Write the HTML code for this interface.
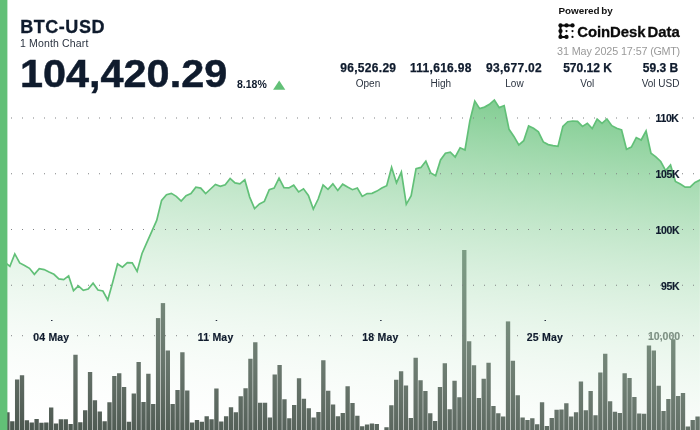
<!DOCTYPE html>
<html><head><meta charset="utf-8"><title>BTC-USD</title>
<style>
html,body{margin:0;padding:0;background:#fff;}
body{width:700px;height:430px;overflow:hidden;position:relative;font-family:"Liberation Sans",sans-serif;color:#0f1b2d;}
svg{position:absolute;left:0;top:0;}
#tx{position:absolute;left:0;top:0;width:700px;height:430px;will-change:transform;}
.t{position:absolute;white-space:nowrap;line-height:1;}
.c{position:absolute;white-space:nowrap;line-height:1;text-align:center;width:80px;margin-left:-40px;}
.v{font-weight:bold;font-size:12px;top:62px;letter-spacing:0.3px;-webkit-text-stroke:0.25px #0f1b2d;}
.l{font-size:10px;top:78.5px;color:#2b3340;}
.ax{font-weight:bold;font-size:10.5px;-webkit-text-stroke:0.15px #0f1b2d;}
.dx{letter-spacing:0.2px;}
</style></head><body>
<svg width="700" height="430" viewBox="0 0 700 430">
<defs>
<linearGradient id="g" gradientUnits="userSpaceOnUse" x1="0" y1="-9.7" x2="-48.50" y2="430.05">
<stop offset="0" stop-color="rgb(93,190,114)" stop-opacity="1"/>
<stop offset="1" stop-color="rgb(255,255,255)" stop-opacity="0"/>
</linearGradient>
</defs>
<g fill="rgb(73,85,77)"><rect x="5.25" y="412.25" width="4.35" height="18.75"/><rect x="10.12" y="421.25" width="4.35" height="9.75"/><rect x="14.98" y="379.50" width="4.35" height="51.50"/><rect x="19.84" y="375.25" width="4.35" height="55.75"/><rect x="24.70" y="420.25" width="4.35" height="10.75"/><rect x="29.56" y="422.50" width="4.35" height="8.50"/><rect x="34.42" y="419.00" width="4.35" height="12.00"/><rect x="39.28" y="422.75" width="4.35" height="8.25"/><rect x="44.14" y="422.50" width="4.35" height="8.50"/><rect x="49.00" y="407.50" width="4.35" height="23.50"/><rect x="53.86" y="423.50" width="4.35" height="7.50"/><rect x="58.72" y="419.25" width="4.35" height="11.75"/><rect x="63.58" y="419.25" width="4.35" height="11.75"/><rect x="68.44" y="424.00" width="4.35" height="7.00"/><rect x="73.30" y="354.75" width="4.35" height="76.25"/><rect x="78.16" y="422.25" width="4.35" height="8.75"/><rect x="83.02" y="410.25" width="4.35" height="20.75"/><rect x="87.88" y="372.00" width="4.35" height="59.00"/><rect x="92.74" y="400.25" width="4.35" height="30.75"/><rect x="97.60" y="411.50" width="4.35" height="19.50"/><rect x="102.46" y="421.25" width="4.35" height="9.75"/><rect x="107.32" y="402.25" width="4.35" height="28.75"/><rect x="112.18" y="376.00" width="4.35" height="55.00"/><rect x="117.04" y="373.25" width="4.35" height="57.75"/><rect x="121.90" y="387.00" width="4.35" height="44.00"/><rect x="126.76" y="421.75" width="4.35" height="9.25"/><rect x="131.62" y="393.50" width="4.35" height="37.50"/><rect x="136.48" y="362.00" width="4.35" height="69.00"/><rect x="141.34" y="402.00" width="4.35" height="29.00"/><rect x="146.20" y="373.75" width="4.35" height="57.25"/><rect x="151.06" y="404.00" width="4.35" height="27.00"/><rect x="155.92" y="318.10" width="4.35" height="112.90"/><rect x="160.78" y="303.10" width="4.35" height="127.90"/><rect x="165.64" y="350.50" width="4.35" height="80.50"/><rect x="170.50" y="404.00" width="4.35" height="27.00"/><rect x="175.36" y="390.00" width="4.35" height="41.00"/><rect x="180.22" y="352.25" width="4.35" height="78.75"/><rect x="185.08" y="390.50" width="4.35" height="40.50"/><rect x="189.94" y="422.50" width="4.35" height="8.50"/><rect x="194.80" y="420.00" width="4.35" height="11.00"/><rect x="199.66" y="421.75" width="4.35" height="9.25"/><rect x="204.52" y="416.25" width="4.35" height="14.75"/><rect x="209.38" y="419.25" width="4.35" height="11.75"/><rect x="214.24" y="388.50" width="4.35" height="42.50"/><rect x="219.10" y="421.50" width="4.35" height="9.50"/><rect x="223.96" y="416.25" width="4.35" height="14.75"/><rect x="228.82" y="407.25" width="4.35" height="23.75"/><rect x="233.68" y="412.25" width="4.35" height="18.75"/><rect x="238.54" y="396.25" width="4.35" height="34.75"/><rect x="243.40" y="388.25" width="4.35" height="42.75"/><rect x="248.26" y="358.75" width="4.35" height="72.25"/><rect x="253.12" y="342.25" width="4.35" height="88.75"/><rect x="257.98" y="402.75" width="4.35" height="28.25"/><rect x="262.84" y="402.75" width="4.35" height="28.25"/><rect x="267.70" y="417.50" width="4.35" height="13.50"/><rect x="272.56" y="374.50" width="4.35" height="56.50"/><rect x="277.42" y="365.00" width="4.35" height="66.00"/><rect x="282.28" y="399.25" width="4.35" height="31.75"/><rect x="287.14" y="418.25" width="4.35" height="12.75"/><rect x="292.00" y="405.00" width="4.35" height="26.00"/><rect x="296.86" y="378.25" width="4.35" height="52.75"/><rect x="301.72" y="398.75" width="4.35" height="32.25"/><rect x="306.58" y="408.25" width="4.35" height="22.75"/><rect x="311.44" y="417.50" width="4.35" height="13.50"/><rect x="316.30" y="412.00" width="4.35" height="19.00"/><rect x="321.16" y="360.25" width="4.35" height="70.75"/><rect x="326.02" y="390.75" width="4.35" height="40.25"/><rect x="330.88" y="404.50" width="4.35" height="26.50"/><rect x="335.74" y="416.25" width="4.35" height="14.75"/><rect x="340.60" y="413.00" width="4.35" height="18.00"/><rect x="345.46" y="386.25" width="4.35" height="44.75"/><rect x="350.32" y="403.00" width="4.35" height="28.00"/><rect x="355.18" y="415.75" width="4.35" height="15.25"/><rect x="360.04" y="426.25" width="4.35" height="4.75"/><rect x="364.90" y="424.50" width="4.35" height="6.50"/><rect x="369.76" y="423.50" width="4.35" height="7.50"/><rect x="374.62" y="424.00" width="4.35" height="7.00"/><rect x="384.34" y="427.25" width="4.35" height="3.75"/><rect x="389.20" y="405.25" width="4.35" height="25.75"/><rect x="394.06" y="379.75" width="4.35" height="51.25"/><rect x="398.92" y="371.25" width="4.35" height="59.75"/><rect x="403.78" y="385.50" width="4.35" height="45.50"/><rect x="408.64" y="418.00" width="4.35" height="13.00"/><rect x="413.50" y="357.75" width="4.35" height="73.25"/><rect x="418.36" y="380.25" width="4.35" height="50.75"/><rect x="423.22" y="391.00" width="4.35" height="40.00"/><rect x="428.08" y="413.25" width="4.35" height="17.75"/><rect x="432.94" y="421.00" width="4.35" height="10.00"/><rect x="437.80" y="387.00" width="4.35" height="44.00"/><rect x="442.66" y="363.25" width="4.35" height="67.75"/><rect x="447.52" y="409.25" width="4.35" height="21.75"/><rect x="452.38" y="380.75" width="4.35" height="50.25"/><rect x="457.24" y="397.25" width="4.35" height="33.75"/><rect x="462.10" y="250.00" width="4.35" height="181.00"/><rect x="466.96" y="341.25" width="4.35" height="89.75"/><rect x="471.82" y="365.25" width="4.35" height="65.75"/><rect x="476.68" y="398.00" width="4.35" height="33.00"/><rect x="481.54" y="378.75" width="4.35" height="52.25"/><rect x="486.40" y="362.75" width="4.35" height="68.25"/><rect x="491.26" y="406.00" width="4.35" height="25.00"/><rect x="496.13" y="413.25" width="4.35" height="17.75"/><rect x="500.99" y="416.50" width="4.35" height="14.50"/><rect x="505.85" y="321.40" width="4.35" height="109.60"/><rect x="510.71" y="360.75" width="4.35" height="70.25"/><rect x="515.57" y="395.25" width="4.35" height="35.75"/><rect x="520.43" y="417.50" width="4.35" height="13.50"/><rect x="525.29" y="420.00" width="4.35" height="11.00"/><rect x="530.15" y="418.25" width="4.35" height="12.75"/><rect x="535.01" y="424.25" width="4.35" height="6.75"/><rect x="539.87" y="402.25" width="4.35" height="28.75"/><rect x="544.73" y="426.00" width="4.35" height="5.00"/><rect x="549.59" y="418.00" width="4.35" height="13.00"/><rect x="554.45" y="409.75" width="4.35" height="21.25"/><rect x="559.31" y="409.50" width="4.35" height="21.50"/><rect x="564.17" y="403.25" width="4.35" height="27.75"/><rect x="569.03" y="416.50" width="4.35" height="14.50"/><rect x="573.89" y="412.25" width="4.35" height="18.75"/><rect x="578.75" y="381.50" width="4.35" height="49.50"/><rect x="583.61" y="410.25" width="4.35" height="20.75"/><rect x="588.47" y="391.00" width="4.35" height="40.00"/><rect x="593.33" y="415.25" width="4.35" height="15.75"/><rect x="598.19" y="372.50" width="4.35" height="58.50"/><rect x="603.05" y="353.75" width="4.35" height="77.25"/><rect x="607.91" y="401.25" width="4.35" height="29.75"/><rect x="612.77" y="411.75" width="4.35" height="19.25"/><rect x="617.63" y="413.00" width="4.35" height="18.00"/><rect x="622.49" y="373.25" width="4.35" height="57.75"/><rect x="627.35" y="378.00" width="4.35" height="53.00"/><rect x="632.21" y="397.00" width="4.35" height="34.00"/><rect x="637.07" y="413.50" width="4.35" height="17.50"/><rect x="641.93" y="413.75" width="4.35" height="17.25"/><rect x="646.79" y="345.50" width="4.35" height="85.50"/><rect x="651.65" y="350.50" width="4.35" height="80.50"/><rect x="656.51" y="385.75" width="4.35" height="45.25"/><rect x="661.37" y="411.00" width="4.35" height="20.00"/><rect x="666.23" y="399.00" width="4.35" height="32.00"/><rect x="671.09" y="339.25" width="4.35" height="91.75"/><rect x="675.95" y="396.00" width="4.35" height="35.00"/><rect x="680.81" y="393.00" width="4.35" height="38.00"/><rect x="685.67" y="426.50" width="4.35" height="4.50"/><rect x="690.53" y="420.00" width="4.35" height="11.00"/><rect x="695.39" y="416.50" width="4.35" height="14.50"/></g>
<path d="M5.00 262.30 L9.89 266.40 L14.79 253.93 L19.68 262.90 L24.57 265.40 L29.47 268.30 L34.36 274.40 L39.26 268.67 L44.15 269.60 L49.04 272.10 L53.94 274.30 L58.83 278.90 L63.72 279.70 L68.62 275.94 L73.51 290.70 L78.40 285.87 L83.30 290.40 L88.19 289.00 L93.08 283.19 L97.98 290.00 L102.87 291.00 L107.77 300.00 L112.66 282.50 L117.55 263.93 L122.45 267.10 L127.34 262.64 L132.23 262.90 L137.13 271.40 L142.02 253.50 L146.91 242.40 L151.81 231.40 L156.70 220.40 L161.60 200.40 L166.49 194.70 L171.38 193.34 L176.28 196.40 L181.17 201.10 L186.06 195.70 L190.96 193.60 L195.85 187.18 L200.74 188.10 L205.64 193.60 L210.53 189.00 L215.42 184.38 L220.32 186.40 L225.21 184.70 L230.11 178.42 L235.00 182.90 L239.89 183.90 L244.79 179.70 L249.68 197.10 L254.57 208.60 L259.47 203.90 L264.36 201.40 L269.25 189.60 L274.15 188.10 L279.04 178.16 L283.94 187.60 L288.83 187.90 L293.72 185.15 L298.62 191.90 L303.51 188.77 L308.40 195.40 L313.30 209.00 L318.19 199.00 L323.08 184.97 L327.98 189.30 L332.87 183.86 L337.76 190.40 L342.66 184.15 L347.55 187.10 L352.45 189.70 L357.34 188.03 L362.23 196.40 L367.13 193.60 L372.02 193.30 L376.91 191.10 L381.81 188.10 L386.70 185.70 L391.59 167.30 L396.49 182.90 L401.38 172.09 L406.28 204.30 L411.17 195.70 L416.06 168.60 L420.96 167.40 L425.85 161.15 L430.74 172.90 L435.64 175.70 L440.53 160.00 L445.42 153.20 L450.32 152.16 L455.21 157.00 L460.10 147.77 L465.00 150.00 L469.89 120.70 L474.79 101.10 L479.68 108.60 L484.57 107.10 L489.47 104.30 L494.36 99.95 L499.25 107.60 L504.15 105.56 L509.04 129.30 L513.93 136.40 L518.83 145.00 L523.72 140.70 L528.62 125.94 L533.51 128.30 L538.40 131.80 L543.30 141.90 L548.19 144.60 L553.08 145.70 L557.98 146.40 L562.87 126.40 L567.76 121.70 L572.66 121.00 L577.55 121.40 L582.44 126.40 L587.34 123.24 L592.23 128.60 L597.13 119.18 L602.02 123.40 L606.91 118.93 L611.81 125.70 L616.70 128.30 L621.59 130.00 L626.49 149.30 L631.38 147.10 L636.27 137.58 L641.17 140.00 L646.06 130.88 L650.96 153.30 L655.85 156.80 L660.74 161.50 L665.64 170.60 L670.53 164.91 L675.42 181.50 L680.32 184.00 L685.21 187.20 L690.10 187.20 L695.00 182.50 L699.89 180.00 L699.89 430 L5.00 430 Z" fill="url(#g)"/>
<path d="M5.00 262.30 L9.89 266.40 L14.79 253.93 L19.68 262.90 L24.57 265.40 L29.47 268.30 L34.36 274.40 L39.26 268.67 L44.15 269.60 L49.04 272.10 L53.94 274.30 L58.83 278.90 L63.72 279.70 L68.62 275.94 L73.51 290.70 L78.40 285.87 L83.30 290.40 L88.19 289.00 L93.08 283.19 L97.98 290.00 L102.87 291.00 L107.77 300.00 L112.66 282.50 L117.55 263.93 L122.45 267.10 L127.34 262.64 L132.23 262.90 L137.13 271.40 L142.02 253.50 L146.91 242.40 L151.81 231.40 L156.70 220.40 L161.60 200.40 L166.49 194.70 L171.38 193.34 L176.28 196.40 L181.17 201.10 L186.06 195.70 L190.96 193.60 L195.85 187.18 L200.74 188.10 L205.64 193.60 L210.53 189.00 L215.42 184.38 L220.32 186.40 L225.21 184.70 L230.11 178.42 L235.00 182.90 L239.89 183.90 L244.79 179.70 L249.68 197.10 L254.57 208.60 L259.47 203.90 L264.36 201.40 L269.25 189.60 L274.15 188.10 L279.04 178.16 L283.94 187.60 L288.83 187.90 L293.72 185.15 L298.62 191.90 L303.51 188.77 L308.40 195.40 L313.30 209.00 L318.19 199.00 L323.08 184.97 L327.98 189.30 L332.87 183.86 L337.76 190.40 L342.66 184.15 L347.55 187.10 L352.45 189.70 L357.34 188.03 L362.23 196.40 L367.13 193.60 L372.02 193.30 L376.91 191.10 L381.81 188.10 L386.70 185.70 L391.59 167.30 L396.49 182.90 L401.38 172.09 L406.28 204.30 L411.17 195.70 L416.06 168.60 L420.96 167.40 L425.85 161.15 L430.74 172.90 L435.64 175.70 L440.53 160.00 L445.42 153.20 L450.32 152.16 L455.21 157.00 L460.10 147.77 L465.00 150.00 L469.89 120.70 L474.79 101.10 L479.68 108.60 L484.57 107.10 L489.47 104.30 L494.36 99.95 L499.25 107.60 L504.15 105.56 L509.04 129.30 L513.93 136.40 L518.83 145.00 L523.72 140.70 L528.62 125.94 L533.51 128.30 L538.40 131.80 L543.30 141.90 L548.19 144.60 L553.08 145.70 L557.98 146.40 L562.87 126.40 L567.76 121.70 L572.66 121.00 L577.55 121.40 L582.44 126.40 L587.34 123.24 L592.23 128.60 L597.13 119.18 L602.02 123.40 L606.91 118.93 L611.81 125.70 L616.70 128.30 L621.59 130.00 L626.49 149.30 L631.38 147.10 L636.27 137.58 L641.17 140.00 L646.06 130.88 L650.96 153.30 L655.85 156.80 L660.74 161.50 L665.64 170.60 L670.53 164.91 L675.42 181.50 L680.32 184.00 L685.21 187.20 L690.10 187.20 L695.00 182.50 L699.89 180.00" fill="none" stroke="#62c078" stroke-width="1.7" stroke-linejoin="miter" stroke-miterlimit="6" stroke-linecap="round"/>
<g fill="#808284"><rect x="11" y="117.5" width="1" height="1"/><rect x="22" y="117.5" width="1" height="1"/><rect x="33" y="117.5" width="1" height="1"/><rect x="44" y="117.5" width="1" height="1"/><rect x="55" y="117.5" width="1" height="1"/><rect x="66" y="117.5" width="1" height="1"/><rect x="77" y="117.5" width="1" height="1"/><rect x="88" y="117.5" width="1" height="1"/><rect x="99" y="117.5" width="1" height="1"/><rect x="110" y="117.5" width="1" height="1"/><rect x="121" y="117.5" width="1" height="1"/><rect x="132" y="117.5" width="1" height="1"/><rect x="143" y="117.5" width="1" height="1"/><rect x="154" y="117.5" width="1" height="1"/><rect x="165" y="117.5" width="1" height="1"/><rect x="176" y="117.5" width="1" height="1"/><rect x="187" y="117.5" width="1" height="1"/><rect x="198" y="117.5" width="1" height="1"/><rect x="209" y="117.5" width="1" height="1"/><rect x="220" y="117.5" width="1" height="1"/><rect x="231" y="117.5" width="1" height="1"/><rect x="242" y="117.5" width="1" height="1"/><rect x="253" y="117.5" width="1" height="1"/><rect x="264" y="117.5" width="1" height="1"/><rect x="275" y="117.5" width="1" height="1"/><rect x="286" y="117.5" width="1" height="1"/><rect x="297" y="117.5" width="1" height="1"/><rect x="308" y="117.5" width="1" height="1"/><rect x="319" y="117.5" width="1" height="1"/><rect x="330" y="117.5" width="1" height="1"/><rect x="341" y="117.5" width="1" height="1"/><rect x="352" y="117.5" width="1" height="1"/><rect x="363" y="117.5" width="1" height="1"/><rect x="374" y="117.5" width="1" height="1"/><rect x="385" y="117.5" width="1" height="1"/><rect x="396" y="117.5" width="1" height="1"/><rect x="407" y="117.5" width="1" height="1"/><rect x="418" y="117.5" width="1" height="1"/><rect x="429" y="117.5" width="1" height="1"/><rect x="440" y="117.5" width="1" height="1"/><rect x="451" y="117.5" width="1" height="1"/><rect x="462" y="117.5" width="1" height="1"/><rect x="473" y="117.5" width="1" height="1"/><rect x="484" y="117.5" width="1" height="1"/><rect x="495" y="117.5" width="1" height="1"/><rect x="506" y="117.5" width="1" height="1"/><rect x="517" y="117.5" width="1" height="1"/><rect x="528" y="117.5" width="1" height="1"/><rect x="539" y="117.5" width="1" height="1"/><rect x="550" y="117.5" width="1" height="1"/><rect x="561" y="117.5" width="1" height="1"/><rect x="572" y="117.5" width="1" height="1"/><rect x="583" y="117.5" width="1" height="1"/><rect x="594" y="117.5" width="1" height="1"/><rect x="605" y="117.5" width="1" height="1"/><rect x="616" y="117.5" width="1" height="1"/><rect x="627" y="117.5" width="1" height="1"/><rect x="638" y="117.5" width="1" height="1"/><rect x="649" y="117.5" width="1" height="1"/><rect x="660" y="117.5" width="1" height="1"/><rect x="671" y="117.5" width="1" height="1"/><rect x="682" y="117.5" width="1" height="1"/><rect x="693" y="117.5" width="1" height="1"/><rect x="11" y="173.25" width="1" height="1"/><rect x="22" y="173.25" width="1" height="1"/><rect x="33" y="173.25" width="1" height="1"/><rect x="44" y="173.25" width="1" height="1"/><rect x="55" y="173.25" width="1" height="1"/><rect x="66" y="173.25" width="1" height="1"/><rect x="77" y="173.25" width="1" height="1"/><rect x="88" y="173.25" width="1" height="1"/><rect x="99" y="173.25" width="1" height="1"/><rect x="110" y="173.25" width="1" height="1"/><rect x="121" y="173.25" width="1" height="1"/><rect x="132" y="173.25" width="1" height="1"/><rect x="143" y="173.25" width="1" height="1"/><rect x="154" y="173.25" width="1" height="1"/><rect x="165" y="173.25" width="1" height="1"/><rect x="176" y="173.25" width="1" height="1"/><rect x="187" y="173.25" width="1" height="1"/><rect x="198" y="173.25" width="1" height="1"/><rect x="209" y="173.25" width="1" height="1"/><rect x="220" y="173.25" width="1" height="1"/><rect x="231" y="173.25" width="1" height="1"/><rect x="242" y="173.25" width="1" height="1"/><rect x="253" y="173.25" width="1" height="1"/><rect x="264" y="173.25" width="1" height="1"/><rect x="275" y="173.25" width="1" height="1"/><rect x="286" y="173.25" width="1" height="1"/><rect x="297" y="173.25" width="1" height="1"/><rect x="308" y="173.25" width="1" height="1"/><rect x="319" y="173.25" width="1" height="1"/><rect x="330" y="173.25" width="1" height="1"/><rect x="341" y="173.25" width="1" height="1"/><rect x="352" y="173.25" width="1" height="1"/><rect x="363" y="173.25" width="1" height="1"/><rect x="374" y="173.25" width="1" height="1"/><rect x="385" y="173.25" width="1" height="1"/><rect x="396" y="173.25" width="1" height="1"/><rect x="407" y="173.25" width="1" height="1"/><rect x="418" y="173.25" width="1" height="1"/><rect x="429" y="173.25" width="1" height="1"/><rect x="440" y="173.25" width="1" height="1"/><rect x="451" y="173.25" width="1" height="1"/><rect x="462" y="173.25" width="1" height="1"/><rect x="473" y="173.25" width="1" height="1"/><rect x="484" y="173.25" width="1" height="1"/><rect x="495" y="173.25" width="1" height="1"/><rect x="506" y="173.25" width="1" height="1"/><rect x="517" y="173.25" width="1" height="1"/><rect x="528" y="173.25" width="1" height="1"/><rect x="539" y="173.25" width="1" height="1"/><rect x="550" y="173.25" width="1" height="1"/><rect x="561" y="173.25" width="1" height="1"/><rect x="572" y="173.25" width="1" height="1"/><rect x="583" y="173.25" width="1" height="1"/><rect x="594" y="173.25" width="1" height="1"/><rect x="605" y="173.25" width="1" height="1"/><rect x="616" y="173.25" width="1" height="1"/><rect x="627" y="173.25" width="1" height="1"/><rect x="638" y="173.25" width="1" height="1"/><rect x="649" y="173.25" width="1" height="1"/><rect x="660" y="173.25" width="1" height="1"/><rect x="671" y="173.25" width="1" height="1"/><rect x="682" y="173.25" width="1" height="1"/><rect x="693" y="173.25" width="1" height="1"/><rect x="11" y="229.0" width="1" height="1"/><rect x="22" y="229.0" width="1" height="1"/><rect x="33" y="229.0" width="1" height="1"/><rect x="44" y="229.0" width="1" height="1"/><rect x="55" y="229.0" width="1" height="1"/><rect x="66" y="229.0" width="1" height="1"/><rect x="77" y="229.0" width="1" height="1"/><rect x="88" y="229.0" width="1" height="1"/><rect x="99" y="229.0" width="1" height="1"/><rect x="110" y="229.0" width="1" height="1"/><rect x="121" y="229.0" width="1" height="1"/><rect x="132" y="229.0" width="1" height="1"/><rect x="143" y="229.0" width="1" height="1"/><rect x="154" y="229.0" width="1" height="1"/><rect x="165" y="229.0" width="1" height="1"/><rect x="176" y="229.0" width="1" height="1"/><rect x="187" y="229.0" width="1" height="1"/><rect x="198" y="229.0" width="1" height="1"/><rect x="209" y="229.0" width="1" height="1"/><rect x="220" y="229.0" width="1" height="1"/><rect x="231" y="229.0" width="1" height="1"/><rect x="242" y="229.0" width="1" height="1"/><rect x="253" y="229.0" width="1" height="1"/><rect x="264" y="229.0" width="1" height="1"/><rect x="275" y="229.0" width="1" height="1"/><rect x="286" y="229.0" width="1" height="1"/><rect x="297" y="229.0" width="1" height="1"/><rect x="308" y="229.0" width="1" height="1"/><rect x="319" y="229.0" width="1" height="1"/><rect x="330" y="229.0" width="1" height="1"/><rect x="341" y="229.0" width="1" height="1"/><rect x="352" y="229.0" width="1" height="1"/><rect x="363" y="229.0" width="1" height="1"/><rect x="374" y="229.0" width="1" height="1"/><rect x="385" y="229.0" width="1" height="1"/><rect x="396" y="229.0" width="1" height="1"/><rect x="407" y="229.0" width="1" height="1"/><rect x="418" y="229.0" width="1" height="1"/><rect x="429" y="229.0" width="1" height="1"/><rect x="440" y="229.0" width="1" height="1"/><rect x="451" y="229.0" width="1" height="1"/><rect x="462" y="229.0" width="1" height="1"/><rect x="473" y="229.0" width="1" height="1"/><rect x="484" y="229.0" width="1" height="1"/><rect x="495" y="229.0" width="1" height="1"/><rect x="506" y="229.0" width="1" height="1"/><rect x="517" y="229.0" width="1" height="1"/><rect x="528" y="229.0" width="1" height="1"/><rect x="539" y="229.0" width="1" height="1"/><rect x="550" y="229.0" width="1" height="1"/><rect x="561" y="229.0" width="1" height="1"/><rect x="572" y="229.0" width="1" height="1"/><rect x="583" y="229.0" width="1" height="1"/><rect x="594" y="229.0" width="1" height="1"/><rect x="605" y="229.0" width="1" height="1"/><rect x="616" y="229.0" width="1" height="1"/><rect x="627" y="229.0" width="1" height="1"/><rect x="638" y="229.0" width="1" height="1"/><rect x="649" y="229.0" width="1" height="1"/><rect x="660" y="229.0" width="1" height="1"/><rect x="671" y="229.0" width="1" height="1"/><rect x="682" y="229.0" width="1" height="1"/><rect x="693" y="229.0" width="1" height="1"/><rect x="11" y="284.75" width="1" height="1"/><rect x="22" y="284.75" width="1" height="1"/><rect x="33" y="284.75" width="1" height="1"/><rect x="44" y="284.75" width="1" height="1"/><rect x="55" y="284.75" width="1" height="1"/><rect x="66" y="284.75" width="1" height="1"/><rect x="77" y="284.75" width="1" height="1"/><rect x="88" y="284.75" width="1" height="1"/><rect x="99" y="284.75" width="1" height="1"/><rect x="110" y="284.75" width="1" height="1"/><rect x="121" y="284.75" width="1" height="1"/><rect x="132" y="284.75" width="1" height="1"/><rect x="143" y="284.75" width="1" height="1"/><rect x="154" y="284.75" width="1" height="1"/><rect x="165" y="284.75" width="1" height="1"/><rect x="176" y="284.75" width="1" height="1"/><rect x="187" y="284.75" width="1" height="1"/><rect x="198" y="284.75" width="1" height="1"/><rect x="209" y="284.75" width="1" height="1"/><rect x="220" y="284.75" width="1" height="1"/><rect x="231" y="284.75" width="1" height="1"/><rect x="242" y="284.75" width="1" height="1"/><rect x="253" y="284.75" width="1" height="1"/><rect x="264" y="284.75" width="1" height="1"/><rect x="275" y="284.75" width="1" height="1"/><rect x="286" y="284.75" width="1" height="1"/><rect x="297" y="284.75" width="1" height="1"/><rect x="308" y="284.75" width="1" height="1"/><rect x="319" y="284.75" width="1" height="1"/><rect x="330" y="284.75" width="1" height="1"/><rect x="341" y="284.75" width="1" height="1"/><rect x="352" y="284.75" width="1" height="1"/><rect x="363" y="284.75" width="1" height="1"/><rect x="374" y="284.75" width="1" height="1"/><rect x="385" y="284.75" width="1" height="1"/><rect x="396" y="284.75" width="1" height="1"/><rect x="407" y="284.75" width="1" height="1"/><rect x="418" y="284.75" width="1" height="1"/><rect x="429" y="284.75" width="1" height="1"/><rect x="440" y="284.75" width="1" height="1"/><rect x="451" y="284.75" width="1" height="1"/><rect x="462" y="284.75" width="1" height="1"/><rect x="473" y="284.75" width="1" height="1"/><rect x="484" y="284.75" width="1" height="1"/><rect x="495" y="284.75" width="1" height="1"/><rect x="506" y="284.75" width="1" height="1"/><rect x="517" y="284.75" width="1" height="1"/><rect x="528" y="284.75" width="1" height="1"/><rect x="539" y="284.75" width="1" height="1"/><rect x="550" y="284.75" width="1" height="1"/><rect x="561" y="284.75" width="1" height="1"/><rect x="572" y="284.75" width="1" height="1"/><rect x="583" y="284.75" width="1" height="1"/><rect x="594" y="284.75" width="1" height="1"/><rect x="605" y="284.75" width="1" height="1"/><rect x="616" y="284.75" width="1" height="1"/><rect x="627" y="284.75" width="1" height="1"/><rect x="638" y="284.75" width="1" height="1"/><rect x="649" y="284.75" width="1" height="1"/><rect x="660" y="284.75" width="1" height="1"/><rect x="671" y="284.75" width="1" height="1"/><rect x="682" y="284.75" width="1" height="1"/><rect x="693" y="284.75" width="1" height="1"/><rect x="11" y="335.2" width="1" height="1"/><rect x="22" y="335.2" width="1" height="1"/><rect x="33" y="335.2" width="1" height="1"/><rect x="44" y="335.2" width="1" height="1"/><rect x="55" y="335.2" width="1" height="1"/><rect x="66" y="335.2" width="1" height="1"/><rect x="77" y="335.2" width="1" height="1"/><rect x="88" y="335.2" width="1" height="1"/><rect x="99" y="335.2" width="1" height="1"/><rect x="110" y="335.2" width="1" height="1"/><rect x="121" y="335.2" width="1" height="1"/><rect x="132" y="335.2" width="1" height="1"/><rect x="143" y="335.2" width="1" height="1"/><rect x="154" y="335.2" width="1" height="1"/><rect x="165" y="335.2" width="1" height="1"/><rect x="176" y="335.2" width="1" height="1"/><rect x="187" y="335.2" width="1" height="1"/><rect x="198" y="335.2" width="1" height="1"/><rect x="209" y="335.2" width="1" height="1"/><rect x="220" y="335.2" width="1" height="1"/><rect x="231" y="335.2" width="1" height="1"/><rect x="242" y="335.2" width="1" height="1"/><rect x="253" y="335.2" width="1" height="1"/><rect x="264" y="335.2" width="1" height="1"/><rect x="275" y="335.2" width="1" height="1"/><rect x="286" y="335.2" width="1" height="1"/><rect x="297" y="335.2" width="1" height="1"/><rect x="308" y="335.2" width="1" height="1"/><rect x="319" y="335.2" width="1" height="1"/><rect x="330" y="335.2" width="1" height="1"/><rect x="341" y="335.2" width="1" height="1"/><rect x="352" y="335.2" width="1" height="1"/><rect x="363" y="335.2" width="1" height="1"/><rect x="374" y="335.2" width="1" height="1"/><rect x="385" y="335.2" width="1" height="1"/><rect x="396" y="335.2" width="1" height="1"/><rect x="407" y="335.2" width="1" height="1"/><rect x="418" y="335.2" width="1" height="1"/><rect x="429" y="335.2" width="1" height="1"/><rect x="440" y="335.2" width="1" height="1"/><rect x="451" y="335.2" width="1" height="1"/><rect x="462" y="335.2" width="1" height="1"/><rect x="473" y="335.2" width="1" height="1"/><rect x="484" y="335.2" width="1" height="1"/><rect x="495" y="335.2" width="1" height="1"/><rect x="506" y="335.2" width="1" height="1"/><rect x="517" y="335.2" width="1" height="1"/><rect x="528" y="335.2" width="1" height="1"/><rect x="539" y="335.2" width="1" height="1"/><rect x="550" y="335.2" width="1" height="1"/><rect x="561" y="335.2" width="1" height="1"/><rect x="572" y="335.2" width="1" height="1"/><rect x="583" y="335.2" width="1" height="1"/><rect x="594" y="335.2" width="1" height="1"/><rect x="605" y="335.2" width="1" height="1"/><rect x="616" y="335.2" width="1" height="1"/><rect x="627" y="335.2" width="1" height="1"/><rect x="638" y="335.2" width="1" height="1"/><rect x="649" y="335.2" width="1" height="1"/><rect x="660" y="335.2" width="1" height="1"/><rect x="671" y="335.2" width="1" height="1"/><rect x="682" y="335.2" width="1" height="1"/><rect x="693" y="335.2" width="1" height="1"/></g>
<g fill="#2a3242"><rect x="51.0" y="320" width="1.5" height="1"/><rect x="215.7" y="320" width="1.5" height="1"/><rect x="380.1" y="320" width="1.5" height="1"/><rect x="544.5" y="320" width="1.5" height="1"/></g>
<rect x="0" y="0" width="7.4" height="430" fill="#62c077"/>
<polygon points="279.2,80.4 285.3,89.7 273.1,89.7" fill="#62c077"/>
<!-- coindesk icon -->
<g fill="#0b0b0b" stroke="#0b0b0b">
<path d="M572.5 25.45 L560.5 25.45 L560.5 36.9 L566.5 36.9" fill="none" stroke-width="2.0" stroke-linejoin="round" stroke-linecap="round"/>
<circle cx="560.5" cy="25.45" r="2.15" stroke="none"/><circle cx="566.5" cy="25.45" r="2.15" stroke="none"/><circle cx="572.5" cy="25.45" r="2.15" stroke="none"/>
<circle cx="560.5" cy="31.1" r="2.15" stroke="none"/><circle cx="560.5" cy="36.9" r="2.15" stroke="none"/><circle cx="566.5" cy="36.9" r="2.15" stroke="none"/>
<circle cx="566.5" cy="31.1" r="1.1" stroke="none"/><circle cx="572.5" cy="31.1" r="1.1" stroke="none"/><circle cx="572.5" cy="36.9" r="1.1" stroke="none"/>
</g>
</svg>
<div id="tx">
<div class="t" style="left:20.2px;top:18px;font-size:18px;font-weight:bold;letter-spacing:0.55px;-webkit-text-stroke:0.3px #0f1b2d;">BTC-USD</div>
<div class="t" style="left:20px;top:38px;font-size:10.5px;color:#2b3340;letter-spacing:0.15px;">1 Month Chart</div>
<div class="t" style="left:20.4px;top:54px;font-size:39.5px;font-weight:bold;transform:scaleX(1.048);transform-origin:0 0;-webkit-text-stroke:0.5px #0f1b2d;">104,420.29</div>
<div class="t" style="left:237px;top:79px;font-size:10.5px;font-weight:bold;">8.18%</div>

<div class="t" style="left:558.5px;top:6.2px;font-size:9.9px;font-weight:bold;color:#111;letter-spacing:-0.02px;word-spacing:-1px;">Powered by</div>
<div class="t" style="left:577.2px;top:24.5px;font-size:14.9px;font-weight:bold;color:#0b0b0b;letter-spacing:-0.06px;word-spacing:-1.9px;-webkit-text-stroke:0.3px #0b0b0b;">CoinDesk Data</div>
<div class="t" style="left:557px;top:45.5px;font-size:10.8px;letter-spacing:-0.12px;color:#9a9a9a;">31 May 2025 17:57<span style="letter-spacing:-0.28px"> (GMT)</span></div>

<div class="c v" style="left:368.3px;">96,526.29</div><div class="c l" style="left:368px;">Open</div>
<div class="c v" style="left:440.8px;">111,616.98</div><div class="c l" style="left:440.8px;">High</div>
<div class="c v" style="left:514px;">93,677.02</div><div class="c l" style="left:514.5px;">Low</div>
<div class="c v" style="left:587.5px;letter-spacing:0;">570.12 K</div><div class="c l" style="left:587.3px;">Vol</div>
<div class="c v" style="left:660.5px;letter-spacing:0;">59.3 B</div><div class="c l" style="left:660.6px;">Vol USD</div>

<div class="t ax" style="left:655.6px;top:112.5px;letter-spacing:-0.4px;">110K</div>
<div class="t ax" style="left:655.6px;top:168.5px;letter-spacing:-0.4px;">105K</div>
<div class="t ax" style="left:655.6px;top:224.5px;letter-spacing:-0.4px;">100K</div>
<div class="t ax" style="left:661.0px;top:280.5px;letter-spacing:-0.4px;">95K</div>
<div class="t ax" style="left:648px;top:331px;color:#7c8f82;-webkit-text-stroke:0.15px #7c8f82;">10,000</div>

<div class="t ax dx" style="left:33.2px;top:332px;">04 May</div>
<div class="t ax dx" style="left:197.8px;top:332px;">11 May</div>
<div class="t ax dx" style="left:362.3px;top:332px;">18 May</div>
<div class="t ax dx" style="left:526.8px;top:332px;">25 May</div>
</div>
</body></html>
